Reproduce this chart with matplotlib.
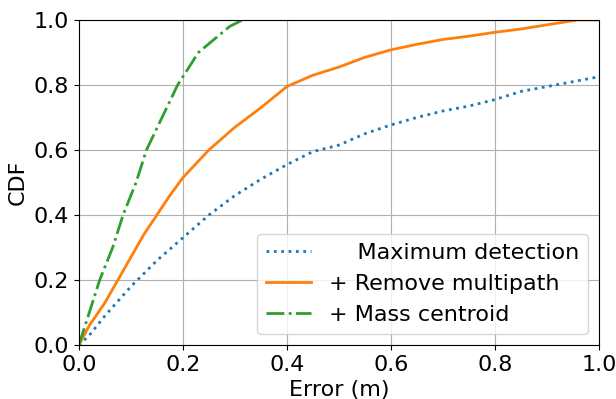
import matplotlib
matplotlib.use("Agg")
import matplotlib.pyplot as plt

# error (m) vs CDF
max_det_x = [0.0, 0.02, 0.05, 0.1, 0.15, 0.2, 0.25, 0.3, 0.35, 0.4, 0.45, 0.5, 0.55, 0.6, 0.65, 0.7, 0.75, 0.8, 0.85, 0.9, 0.95, 1.0]
max_det_y = [0.0, 0.03, 0.09, 0.18, 0.26, 0.33, 0.40, 0.46, 0.51, 0.555, 0.595, 0.615, 0.65, 0.677, 0.70, 0.72, 0.735, 0.755, 0.78, 0.795, 0.81, 0.825]

multipath_x = [0.0, 0.02, 0.05, 0.075, 0.1, 0.125, 0.15, 0.175, 0.2, 0.25, 0.3, 0.35, 0.4, 0.45, 0.5, 0.55, 0.6, 0.65, 0.7, 0.75, 0.8, 0.85, 0.9, 0.96, 1.0]
multipath_y = [0.0, 0.06, 0.13, 0.2, 0.27, 0.34, 0.40, 0.46, 0.515, 0.60, 0.67, 0.73, 0.795, 0.83, 0.855, 0.885, 0.908, 0.925, 0.94, 0.95, 0.962, 0.972, 0.985, 1.0, 1.0]

centroid_x = [0.0, 0.02, 0.04, 0.065, 0.085, 0.11, 0.13, 0.16, 0.19, 0.21, 0.23, 0.26, 0.29, 0.315]
centroid_y = [0.0, 0.1, 0.2, 0.3, 0.4, 0.5, 0.6, 0.7, 0.8, 0.85, 0.9, 0.94, 0.98, 1.0]

plt.rcParams["font.size"] = 16

fig, ax = plt.subplots(figsize=(6.16, 3.99), dpi=100)
ax.plot(max_det_x, max_det_y, ":", lw=2, color="tab:blue", label="    Maximum detection")
ax.plot(multipath_x, multipath_y, "-", lw=2, color="tab:orange", label="+ Remove multipath")
ax.plot(centroid_x, centroid_y, "-.", lw=2, color="tab:green", label="+ Mass centroid")

ax.set_xlim(0, 1)
ax.set_ylim(0, 1)
ax.set_xlabel("Error (m)")
ax.set_ylabel("CDF")
ax.grid(True)
ax.legend(loc="lower right")

plt.subplots_adjust(left=0.128, right=0.972, top=0.95, bottom=0.135)
plt.savefig("out.png")
